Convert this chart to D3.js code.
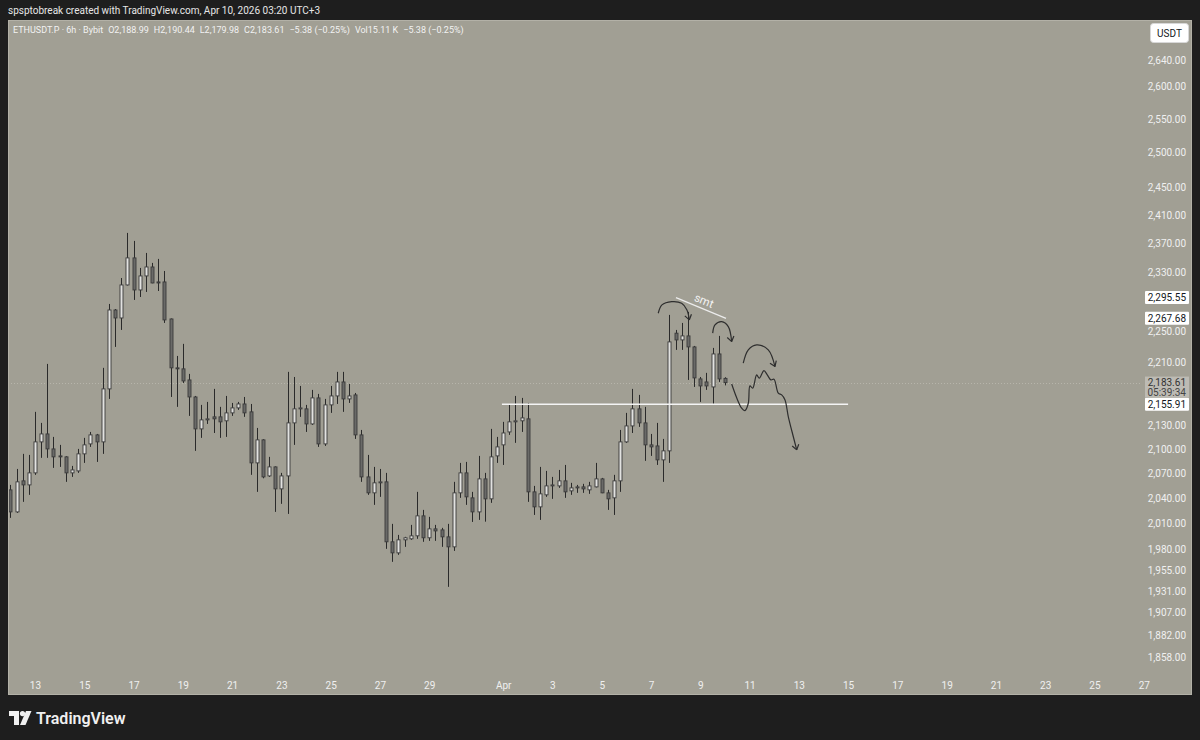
<!DOCTYPE html>
<html>
<head>
<meta charset="utf-8">
<script src="https://cdn.jsdelivr.net/npm/d3@7"></script>
<style>
  body { margin: 0; background: #1e1e1e; }
  svg { display: block; }
  text { font-family: Roboto, "Liberation Sans", sans-serif; }
</style>
</head>
<body>
<svg id="chart" width="1200" height="740"></svg>
<script>
// 6h ETHUSDT.P candles, first bar Mar 12 2026
var startUtc = Date.UTC(2026, 2, 12, 0, 0);
var barMs = 6 * 3600 * 1000;

var opens = [2050.0,2023.6,2060.9,2056.0,2070.6,2108.7,2118.6,2100.0,2091.4,2090.2,
  2070.6,2073.0,2093.9,2106.2,2117.4,2108.7,2175.5,2278.9,2268.2,2312.7,
  2349.8,2305.9,2325.0,2337.3,2316.8,2316.8,2266.9,2202.6,2201.3,2187.0,
  2165.2,2124.9,2136.2,2140.0,2140.0,2135.0,2145.0,2151.3,2156.3,2146.3,
  2082.8,2111.2,2066.9,2077.9,2051.2,2066.9,2132.4,2150.1,2150.1,2131.1,
  2164.0,2106.2,2155.1,2166.5,2184.4,2162.7,2167.8,2117.4,2065.7,2046.4,
  2058.5,2059.7,1988.3,1975.4,1990.6,1991.8,1995.3,2018.9,1993.0,2003.5,
  2002.3,1994.1,1982.4,2046.4,2070.6,2040.4,2023.6,2063.3,2039.2,2091.4,
  2105.0,2121.1,2133.7,2135.0,2137.5,2047.6,2029.6,2044.0,2054.8,2054.8,
  2060.9,2048.8,2052.4,2053.6,2050.0,2053.6,2063.3,2046.4,2040.4,2060.9,
  2108.7,2128.6,2150.1,2132.4,2105.0,2103.7,2086.5,2097.6,2248.0,2239.1,
  2244.4,2229.9,2188.3,2184.4,2178.0,2220.7,2188.99];
var highs = [2056.0,2075.4,2093.9,2092.6,2146.3,2132.4,2207.7,2114.9,2105.0,2091.0,
  2079.1,2100.0,2113.7,2121.1,2118.6,2202.6,2287.0,2280.2,2322.2,2384.6,
  2373.4,2336.0,2356.7,2342.9,2348.4,2331.8,2267.5,2218.1,2233.9,2194.8,
  2166.5,2155.1,2158.9,2175.5,2152.6,2166.5,2157.6,2158.9,2165.2,2156.3,
  2126.1,2112.0,2090.2,2078.5,2070.6,2197.4,2190.8,2179.3,2155.1,2174.2,
  2169.1,2162.7,2179.3,2197.4,2197.4,2181.8,2170.3,2123.6,2092.6,2077.9,
  2075.4,2070.6,2009.4,1996.4,1994.1,2008.2,2047.6,2026.0,2017.7,2008.2,
  2004.7,2009.4,2059.7,2082.8,2084.0,2047.6,2091.4,2070.6,2124.9,2114.9,
  2133.7,2155.1,2166.5,2164.0,2157.6,2054.8,2077.9,2073.0,2065.7,2074.2,
  2080.3,2058.5,2056.0,2057.3,2059.7,2082.8,2064.5,2050.0,2068.2,2123.6,
  2145.0,2175.5,2167.8,2152.6,2118.6,2132.4,2112.4,2272.3,2252.3,2261.6,
  2276.3,2231.2,2190.8,2196.1,2228.6,2244.4,2190.44];
var lows = [2016.5,2022.4,2035.6,2044.0,2068.2,2089.0,2089.0,2076.7,2077.9,2059.7,
  2065.7,2070.6,2082.8,2102.5,2084.0,2093.9,2162.7,2229.9,2252.3,2312.0,
  2292.4,2296.4,2303.2,2315.0,2304.5,2261.6,2165.2,2152.6,2183.1,2141.2,
  2097.6,2113.7,2131.1,2119.8,2113.7,2114.9,2141.2,2148.8,2140.0,2068.2,
  2047.6,2064.0,2065.7,2023.6,2033.2,2021.2,2105.0,2140.0,2121.1,2129.9,
  2102.5,2103.7,2145.0,2156.3,2146.3,2157.6,2112.4,2059.7,2044.0,2032.0,
  2041.6,1980.1,1965.0,1973.1,1982.4,1990.6,1991.8,1988.3,1989.4,1989.4,
  1982.4,1936.3,1977.7,2040.4,2032.0,2011.7,2014.1,2012.0,2034.4,2082.8,
  2080.3,2117.4,2107.5,2121.1,2035.6,2020.0,2014.1,2041.6,2039.2,2052.4,
  2040.4,2044.0,2046.4,2046.4,2045.2,2053.0,2046.0,2026.0,2020.0,2047.6,
  2107.5,2119.8,2127.4,2085.3,2091.4,2080.3,2059.7,2082.8,2226.0,2226.0,
  2187.0,2178.0,2158.9,2174.2,2155.91,2184.4,2179.98];
var closes = [2023.6,2059.7,2056.0,2070.6,2108.7,2118.6,2100.0,2090.2,2090.2,2070.6,
  2074.2,2093.9,2105.0,2117.4,2108.7,2175.5,2278.9,2268.2,2312.7,2349.8,
  2305.9,2325.0,2337.3,2315.4,2315.4,2265.6,2202.6,2201.3,2185.7,2165.2,
  2124.9,2136.2,2137.5,2137.5,2133.7,2145.0,2151.3,2156.3,2145.0,2082.8,
  2111.2,2065.7,2077.9,2051.2,2066.9,2132.4,2150.1,2151.3,2131.1,2164.0,
  2106.2,2155.1,2166.5,2184.4,2162.7,2166.5,2117.4,2065.7,2046.4,2058.5,
  2059.7,1988.3,1975.4,1990.6,1993.0,1995.3,2018.9,1993.0,2003.5,2001.1,
  1994.1,1982.4,2046.4,2070.6,2041.6,2023.6,2063.3,2039.2,2090.2,2102.5,
  2119.8,2133.7,2135.0,2138.7,2047.6,2029.6,2045.2,2054.8,2056.0,2060.9,
  2047.6,2052.4,2053.6,2051.2,2054.8,2063.3,2046.4,2039.2,2060.9,2108.7,
  2128.6,2150.1,2132.4,2105.0,2102.5,2086.5,2097.6,2236.5,2239.1,2244.4,
  2229.9,2189.6,2179.3,2179.3,2220.7,2188.3,2183.61];

var dayTicks = ["2026-03-13","2026-03-15","2026-03-17","2026-03-19","2026-03-21","2026-03-23",
  "2026-03-25","2026-03-27","2026-03-29","2026-04-01","2026-04-03","2026-04-05","2026-04-07",
  "2026-04-09","2026-04-11","2026-04-13","2026-04-15","2026-04-17","2026-04-19","2026-04-21",
  "2026-04-23","2026-04-25","2026-04-27"];
var priceTicks = [2640, 2600, 2550, 2500, 2450, 2410, 2370, 2330, 2250, 2210,
  2130, 2100, 2070, 2040, 2010, 1980, 1955, 1931, 1907, 1882, 1858];

var lastPrice = 2183.61, countdown = "05:39:34";
// drawings, in [bar index, price]
var levelLine = [[79.8, 2155.91], [136.0, 2155.91]];
var smtLine = [[108.06, 2295.55], [116.18, 2267.68]];
var arcOne = [[105.18, 2274.5], [105.78, 2285.7], [107.36, 2290.1], [108.98, 2287.9], [109.84, 2278.9], [110.22, 2265.6]];
var arcTwo = [[114.02, 2248.0], [114.39, 2258.9], [115.48, 2263.3], [116.55, 2256.7], [117.1, 2236.9]];
var arcThree = [[118.98, 2208.6], [119.8, 2226.0], [121.16, 2232.6], [123.04, 2226.0], [124.13, 2204.3]];
var pathDown = [[117.1, 2181.8], [118.72, 2150.9], [119.26, 2147.9], [119.8, 2157.2], [120.07, 2179.3],
  [120.51, 2176.4], [121.16, 2193.5], [121.58, 2189.2], [122.34, 2199.1], [122.88, 2193.5],
  [123.48, 2187.0], [123.97, 2187.9], [124.67, 2170.0], [125.22, 2167.8], [125.76, 2161.4],
  [126.29, 2140.4], [127.1, 2115.4], [127.66, 2098.8]];

var headerText = "spsptobreak created with TradingView.com, Apr 10, 2026 03:20 UTC+3";
var legendParts = [["", "ETHUSDT.P · 6h · Bybit"], ["O", "2,188.99"], ["H", "2,190.44"], ["L", "2,179.98"],
  ["C", "2,183.61"], ["", "−5.38 (−0.25%)"], ["Vol", "15.11 K"], ["", "−5.38 (−0.25%)"]];

var svg = d3.select("#chart"),
    width = +svg.attr("width"),
    height = +svg.attr("height");
var pane = {left: 8, top: 20, right: 1191, bottom: 694},
    plotRight = 1140, axisTop = 678;

var x = d3.scaleUtc()
    .domain([new Date(startUtc), new Date(Date.UTC(2026, 3, 28))])
    .range([10.36, 1168.4]);
var y = d3.scaleLog()
    .domain([2640, 1858])
    .range([60, 657]);

function bx(i) { return x(new Date(startUtc + i * barMs)); }
function pt(d) { return [bx(d[0]), y(d[1])]; }

svg.append("rect").attr("width", width).attr("height", height).attr("fill", "#1e1e1e");
svg.append("rect")
    .attr("x", pane.left + 0.5).attr("y", pane.top + 0.5)
    .attr("width", pane.right - pane.left).attr("height", pane.bottom - pane.top)
    .attr("fill", "#a19f94").attr("stroke", "#b3b1a7");

var defs = svg.append("defs");
defs.append("clipPath").attr("id", "plot-clip")
    .append("rect")
    .attr("x", pane.left + 1).attr("y", pane.top + 1)
    .attr("width", plotRight - pane.left).attr("height", axisTop - pane.top);

// header + legend
svg.append("text").attr("x", 8).attr("y", 14)
    .attr("fill", "#e6e6e6").attr("font-size", 10).text(headerText);

var legend = svg.append("text").attr("x", 13).attr("y", 33)
    .attr("fill", "#f2f2f2").attr("font-size", 9);
legendParts.forEach(function(p, k) {
    legend.append("tspan").attr("dx", k ? 5 : 0).text(p[0] || p[1]);
    if (p[0]) legend.append("tspan").text(p[1]);
});

// current price line
var plot = svg.append("g").attr("clip-path", "url(#plot-clip)");
plot.append("line")
    .attr("x1", pane.left).attr("x2", plotRight)
    .attr("y1", Math.round(y(lastPrice)) + 0.5).attr("y2", Math.round(y(lastPrice)) + 0.5)
    .attr("stroke", "#b7b5ab").attr("stroke-dasharray", "1,2");

// candles
var candles = plot.append("g").selectAll("g")
    .data(d3.range(opens.length))
    .join("g")
    .attr("transform", function(i) { return "translate(" + Math.round(bx(i)) + ",0)"; });

candles.append("line")
    .attr("x1", 0.5).attr("x2", 0.5)
    .attr("y1", function(i) { return y(highs[i]); })
    .attr("y2", function(i) { return y(lows[i]); })
    .attr("stroke", "#2a2a2a");

candles.append("rect")
    .attr("x", -1)
    .attr("width", 3)
    .attr("y", function(i) { return y(Math.max(opens[i], closes[i])); })
    .attr("height", function(i) { return Math.max(1, Math.abs(y(opens[i]) - y(closes[i]))); })
    .attr("fill", function(i) { return closes[i] >= opens[i] ? "#e2e2e0" : "#6a6a68"; })
    .attr("stroke", "#3a3a3a")
    .attr("stroke-width", 0.9);

// drawings
plot.append("line")
    .attr("x1", pt(levelLine[0])[0]).attr("y1", pt(levelLine[0])[1])
    .attr("x2", pt(levelLine[1])[0]).attr("y2", pt(levelLine[1])[1])
    .attr("stroke", "#f4f4f4").attr("stroke-width", 1.5);

plot.append("line")
    .attr("x1", pt(smtLine[0])[0]).attr("y1", pt(smtLine[0])[1])
    .attr("x2", pt(smtLine[1])[0]).attr("y2", pt(smtLine[1])[1])
    .attr("stroke", "#ececec").attr("stroke-width", 1.2);

var a = pt(smtLine[0]), b = pt(smtLine[1]);
var ang = Math.atan2(b[1] - a[1], b[0] - a[0]);
var mx = (a[0] + b[0]) / 2 + Math.sin(ang) * 8, my = (a[1] + b[1]) / 2 - Math.cos(ang) * 8;
plot.append("text")
    .attr("transform", "translate(" + mx + "," + my + ") rotate(" + (ang * 180 / Math.PI) + ")")
    .attr("text-anchor", "middle").attr("dy", "0.35em")
    .attr("fill", "#f2f2f2").attr("font-size", 11.5).text("smt");

var curve = d3.line().curve(d3.curveCatmullRom.alpha(0.5));
[arcOne, arcTwo, arcThree, pathDown].forEach(function(pts) {
    var p = pts.map(pt);
    plot.append("path").attr("d", curve(p))
        .attr("fill", "none").attr("stroke", "#2e2e2e").attr("stroke-width", 1.2);
    var e = p[p.length - 1], s = p[p.length - 2];
    var t = Math.atan2(e[1] - s[1], e[0] - s[0]);
    [0.6, -0.6].forEach(function(o) {
        plot.append("line")
            .attr("x1", e[0]).attr("y1", e[1])
            .attr("x2", e[0] - 6 * Math.cos(t + o)).attr("y2", e[1] - 6 * Math.sin(t + o))
            .attr("stroke", "#2e2e2e").attr("stroke-width", 1.2);
    });
});

// time axis
var parseDay = d3.utcParse("%Y-%m-%d");
var xAxis = svg.append("g")
    .attr("transform", "translate(0," + axisTop + ")")
    .call(d3.axisBottom(x)
        .tickValues(dayTicks.map(parseDay))
        .tickSize(0).tickPadding(4)
        .tickFormat(function(d) { return d.getUTCDate() === 1 ? d3.utcFormat("%b")(d) : d.getUTCDate(); }));
xAxis.select(".domain").remove();
xAxis.selectAll("text").attr("fill", "#f0f0f0").attr("font-size", 10).attr("font-family", "Roboto, sans-serif");

// price axis
var yAxis = svg.append("g")
    .attr("transform", "translate(1186,0)")
    .call(d3.axisLeft(y).tickValues(priceTicks).tickFormat(d3.format(",.2f")).tickSize(0).tickPadding(0));
yAxis.select(".domain").remove();
yAxis.selectAll("text").attr("fill", "#f0f0f0").attr("font-size", 10).attr("font-family", "Roboto, sans-serif");

// price labels
var fmt = d3.format(",.2f");
[smtLine[0][1], smtLine[1][1], levelLine[0][1]].forEach(function(v) {
    var yy = y(v);
    svg.append("rect").attr("x", 1145).attr("y", yy - 6.5).attr("width", 44).attr("height", 13)
        .attr("fill", "#ffffff").attr("rx", 1);
    svg.append("text").attr("x", 1186).attr("y", yy).attr("dy", "0.35em")
        .attr("text-anchor", "end").attr("font-size", 10).attr("fill", "#131722").text(fmt(v));
});
var ly = y(lastPrice);
svg.append("rect").attr("x", 1145).attr("y", ly - 6).attr("width", 44).attr("height", 21)
    .attr("fill", "#bdbbb4");
svg.append("text").attr("x", 1186).attr("y", ly).attr("dy", "0.35em")
    .attr("text-anchor", "end").attr("font-size", 10).attr("fill", "#333333").text(fmt(lastPrice));
svg.append("text").attr("x", 1186).attr("y", ly + 10).attr("dy", "0.35em")
    .attr("text-anchor", "end").attr("font-size", 10).attr("fill", "#444444").text(countdown);

// currency button
svg.append("rect").attr("x", 1150.5).attr("y", 23.5).attr("width", 38).attr("height", 19)
    .attr("rx", 3).attr("fill", "#ffffff").attr("stroke", "#d8d8d8");
svg.append("text").attr("x", 1169.5).attr("y", 33).attr("dy", "0.35em").attr("text-anchor", "middle")
    .attr("font-size", 10).attr("fill", "#131722").text("USDT");

// TradingView logo
var logo = svg.append("g").attr("transform", "translate(9,711)").attr("fill", "#f0f0f0");
logo.append("path").attr("d", "M0,0H10V14H5V5H0Z");
logo.append("circle").attr("cx", 13.5).attr("cy", 2.6).attr("r", 2.6);
logo.append("path").attr("d", "M17,0H22.5L16.5,14H11Z");
svg.append("text").attr("x", 36).attr("y", 724)
    .attr("font-family", "Inter, Roboto, sans-serif").attr("font-weight", 600)
    .attr("font-size", 16).attr("fill", "#f0f0f0").text("TradingView");
</script>
</body>
</html>
